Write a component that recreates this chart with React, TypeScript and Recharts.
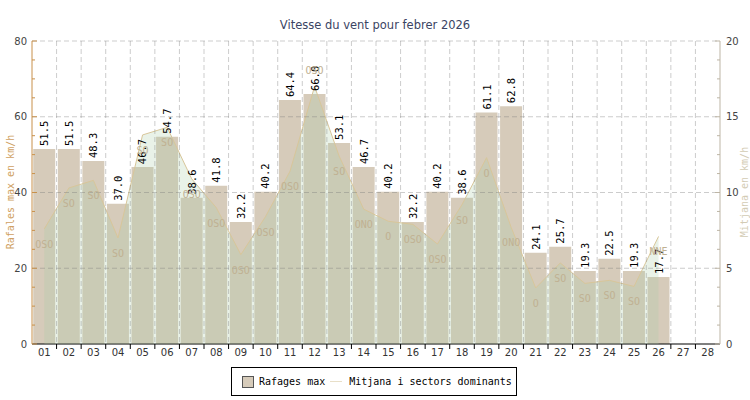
import { Area, Bar, CartesianGrid, ComposedChart, LabelList, XAxis, YAxis } from "recharts";

const days = ["01", "02", "03", "04", "05", "06", "07", "08", "09", "10", "11", "12", "13", "14", "15", "16", "17", "18", "19", "20", "21", "22", "23", "24", "25", "26", "27", "28"];
const rafagues = [51.5, 51.5, 48.3, 37.0, 46.7, 54.7, 38.6, 41.8, 32.2, 40.2, 64.4, 66.0, 53.1, 46.7, 40.2, 32.2, 40.2, 38.6, 61.1, 62.8, 24.1, 25.7, 19.3, 22.5, 19.3, 17.7, null, null];
const mitjana = [7.6, 10.3, 10.8, 7.0, 13.8, 14.3, 10.9, 9.0, 5.9, 8.4, 11.4, 17.0, 12.4, 8.9, 8.1, 7.9, 6.6, 9.2, 12.3, 7.7, 3.7, 5.35, 4.0, 4.2, 3.8, 7.1, null, null];
const sectors = ["OSO", "SO", "SO", "SO", "SO", "SO", "OSO", "OSO", "OSO", "OSO", "OSO", "OSO", "SO", "ONO", "O", "OSO", "OSO", "SO", "O", "ONO", "O", "SO", "SO", "SO", "SO", "NNE", "", ""];
const leftTicks = [0, 5, 10, 15, 20, 25, 30, 35, 40, 45, 50, 55, 60, 65, 70, 75, 80];
const rightTicks = [0, 1.25, 2.5, 3.75, 5, 6.25, 7.5, 8.75, 10, 11.25, 12.5, 13.75, 15, 16.25, 17.5, 18.75, 20];

const data = days.map((d, i) => ({ day: d, rafagues: rafagues[i], mitjana: mitjana[i], sector: sectors[i] }));

const W = 750;
const H = 400;
const LEFT = 32;
const RIGHT = 30;
const BAND = (W - LEFT - RIGHT) / days.length;

const BAR = "#d6cbba";
const MONO = "'DejaVu Sans Mono', monospace";
const SANS = "'DejaVu Sans', sans-serif";

const XTick = ({ x, y, payload, index }: any) => (
  <g>
    {index > 0 && <line x1={x - BAND / 2} x2={x - BAND / 2} y1={y} y2={y + 5} stroke="#000" />}
    <text x={x} y={y + 12} textAnchor="middle" fontSize={10} fill="#333" fontFamily={SANS}>
      {payload.value}
    </text>
  </g>
);

const LeftTick = ({ x, y, payload }: any) => {
  const major = payload.value % 20 === 0;
  return (
    <g>
      <line x1={x} x2={x + (major ? 5 : 3)} y1={y} y2={y} stroke="#c8904a" />
      {major && (
        <text x={x - 5} y={y + 3.5} textAnchor="end" fontSize={10} fill="#444" fontFamily={SANS}>
          {payload.value}
        </text>
      )}
    </g>
  );
};

const RightTick = ({ x, y, payload }: any) => {
  const major = payload.value % 5 === 0;
  return (
    <g>
      <line x1={x} x2={x - (major ? 5 : 3)} y1={y} y2={y} stroke="#bdb5a5" />
      {major && (
        <text x={x + 6} y={y + 3.5} textAnchor="start" fontSize={10} fill="#444" fontFamily={SANS}>
          {payload.value}
        </text>
      )}
    </g>
  );
};

const ValueLabel = ({ x, y, width, value }: any) => {
  if (value == null) return null;
  const cx = x + width / 2;
  const cy = y - 3;
  return (
    <text
      x={cx}
      y={cy}
      transform={`rotate(-90 ${cx} ${cy})`}
      textAnchor="start"
      dominantBaseline="central"
      fontSize={10.5}
      fill="#000"
      fontFamily={MONO}
    >
      {Number(value).toFixed(1)}
    </text>
  );
};

const SectorLabel = ({ x, y, value, index }: any) => {
  if (!value || x == null || y == null) return null;
  const above = (mitjana[index] ?? 0) >= 16;
  return (
    <text
      x={x}
      y={above ? y - 12 : y + 19}
      textAnchor="middle"
      fontSize={10}
      fill="#c0b192"
      fontFamily={MONO}
    >
      {value}
    </text>
  );
};

export default function App() {
  return (
    <div style={{ position: "absolute", left: 0, top: 0, width: W, height: H, background: "#fff" }}>
      <ComposedChart
        width={W}
        height={H}
        data={data}
        margin={{ top: 41, right: 0, left: 0, bottom: 36 }}
        barCategoryGap="5%"
      >
        <XAxis
          dataKey="day"
          interval={0}
          height={20}
          tickSize={0}
          tickMargin={0}
          tickLine={false}
          axisLine={{ stroke: "#000" }}
          tick={<XTick />}
        />
        <YAxis
          domain={[0, 80]}
          ticks={leftTicks}
          interval={0}
          width={LEFT}
          tickSize={0}
          tickMargin={0}
          tickLine={false}
          axisLine={{ stroke: "#c8904a" }}
          tick={<LeftTick />}
        />
        <YAxis
          yAxisId="right"
          orientation="right"
          domain={[0, 20]}
          ticks={rightTicks}
          interval={0}
          width={RIGHT}
          tickSize={0}
          tickMargin={0}
          tickLine={false}
          axisLine={{ stroke: "#bdb5a5" }}
          tick={<RightTick />}
        />
        <Bar dataKey="rafagues" fill={BAR} isAnimationActive={false} zIndex={200}>
          <LabelList dataKey="rafagues" content={<ValueLabel />} />
        </Bar>
        <Area
          yAxisId="right"
          type="linear"
          dataKey="mitjana"
          stroke="#d8c69a"
          strokeWidth={1}
          fill="#abcba7"
          fillOpacity={0.26}
          isAnimationActive={false}
          dot={false}
          activeDot={false}
          zIndex={800}
        >
          <LabelList dataKey="sector" content={<SectorLabel />} />
        </Area>
        <CartesianGrid
          zIndex={1500}
          stroke="rgba(120,120,120,0.38)"
          strokeDasharray="5 3"
          horizontalValues={[0, 20, 40, 60, 80]}
          verticalCoordinatesGenerator={({ offset }: any) =>
            days.slice(1).map((_, i) => offset.left + (offset.width / days.length) * (i + 1))
          }
        />
      </ComposedChart>

      <svg width={W} height={H} style={{ position: "absolute", left: 0, top: 0, pointerEvents: "none" }}>
        <text x={375} y={29} textAnchor="middle" fontSize={11.5} fill="#3b4463" fontFamily={SANS}>
          Vitesse du vent pour febrer 2026
        </text>
        <text
          x={10}
          y={192}
          transform="rotate(-90 10 192)"
          textAnchor="middle"
          dominantBaseline="central"
          fontSize={10}
          fill="#cf9f62"
          fontFamily={MONO}
        >
          Rafales max en km/h
        </text>
        <text
          x={744}
          y={192}
          transform="rotate(-90 744 192)"
          textAnchor="middle"
          dominantBaseline="central"
          fontSize={10}
          fill="#d3cbb4"
          fontFamily={MONO}
        >
          Mitjana en km/h
        </text>
      </svg>

      <div
        style={{
          position: "absolute",
          left: 231,
          top: 367,
          width: 284,
          height: 27,
          border: "1px solid #000",
          background: "#fff",
          display: "flex",
          alignItems: "center",
          fontFamily: MONO,
          fontSize: 10,
          color: "#000",
          whiteSpace: "nowrap",
        }}
      >
        <span style={{ width: 10, height: 10, marginLeft: 10, background: BAR, border: "1px solid #555" }} />
        <span style={{ marginLeft: 5 }}>Rafages max</span>
        <span style={{ width: 12, height: 0, borderTop: "1px solid #e8dfc8", marginLeft: 5, marginRight: 7 }} />
        <span>Mitjana i sectors dominants</span>
      </div>
    </div>
  );
}
